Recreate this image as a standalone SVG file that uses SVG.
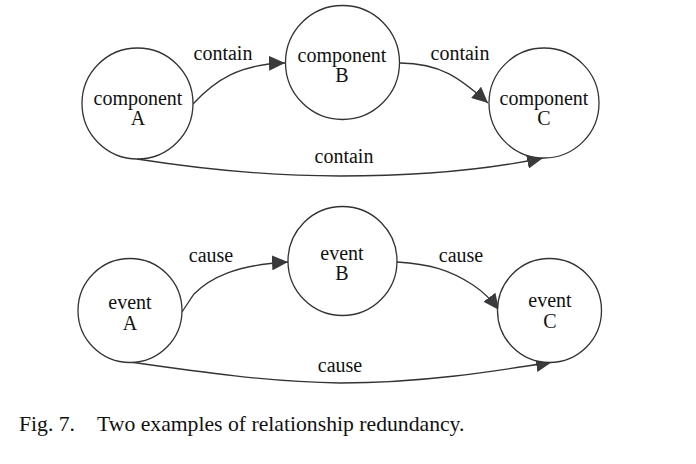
<svg xmlns="http://www.w3.org/2000/svg" width="696" height="464" viewBox="0 0 696 464">
<style>
.n{fill:#fff;stroke:#333;stroke-width:1.3}
.e{fill:none;stroke:#333;stroke-width:1.3}
text{font-family:"Liberation Serif","Times New Roman",serif;font-size:20px;fill:#111;text-anchor:middle}
.cap{font-size:21.7px;text-anchor:start}
</style>
<defs>
<marker id="ah" markerUnits="userSpaceOnUse" markerWidth="16" markerHeight="15" viewBox="0 0 16 15" refX="16" refY="7.5" orient="auto">
<path d="M0,0 L16,7.5 L0,15 Z" fill="#3a3a3d"/>
</marker>
</defs>
<rect width="696" height="464" fill="#fff"/>
<g id="edges">
<path class="e" marker-end="url(#ah)" d="M193,104 C215,80 240,64 285,63"/>
<path class="e" marker-end="url(#ah)" d="M400,63 C440,63 460,78 488,103"/>
<path class="e" marker-end="url(#ah)" d="M137,159 C220,172 280,176 340,176 C430,176 490,169 543,158"/>
<path class="e" marker-end="url(#ah)" d="M182,312 L194,294 C210,278 235,265 288,262"/>
<path class="e" marker-end="url(#ah)" d="M397,262 C430,264 450,270 473,285 C485,293 493,302 499,310"/>
<path class="e" marker-end="url(#ah)" d="M130,362 C200,372 270,382 340,383 C420,383 490,372 552,362"/>
<text x="223" y="60">contain</text>
<text x="460" y="60">contain</text>
<text x="344" y="163">contain</text>
<text x="211" y="262">cause</text>
<text x="461" y="262">cause</text>
<text x="340" y="372">cause</text>
</g>
<g id="componentA"><circle class="n" cx="137.5" cy="103.5" r="55.5"/><text x="138" y="105">component</text><text x="138" y="125">A</text></g>
<g id="componentB"><circle class="n" cx="342.5" cy="62.5" r="57"/><text x="342" y="62">component</text><text x="342" y="82">B</text></g>
<g id="componentC"><circle class="n" cx="544" cy="103" r="55"/><text x="544" y="105">component</text><text x="544" y="125">C</text></g>
<g id="eventA"><circle class="n" cx="130" cy="310.5" r="52"/><text x="130" y="309">event</text><text x="130" y="330">A</text></g>
<g id="eventB"><circle class="n" cx="342.5" cy="261" r="54.5"/><text x="342" y="260">event</text><text x="342" y="280">B</text></g>
<g id="eventC"><circle class="n" cx="549.5" cy="310.5" r="52"/><text x="550" y="307">event</text><text x="550" y="328">C</text></g>
<text class="cap" x="19" y="431">Fig. 7.</text>
<text class="cap" x="97" y="431">Two examples of relationship redundancy.</text>
</svg>
